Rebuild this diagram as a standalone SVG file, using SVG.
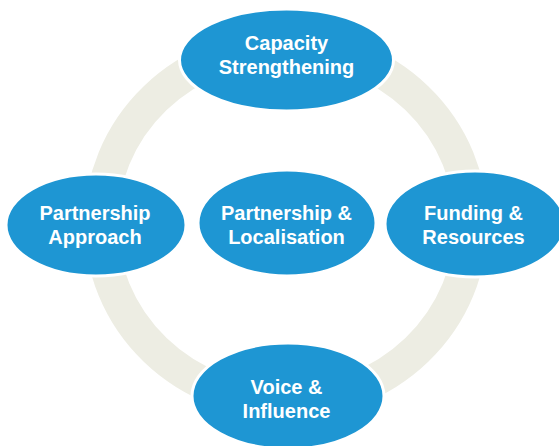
<svg xmlns="http://www.w3.org/2000/svg" width="559" height="446" viewBox="0 0 559 446">
  <style>
    .node { fill: #1e96d3; stroke: #ffffff; stroke-width: 3; }
    .label { fill: #ffffff; font-family: "Liberation Sans", Arial, sans-serif; font-weight: bold; font-size: 20px; text-anchor: middle; }
    .ring { fill: none; stroke: #edede3; stroke-width: 33; }
  </style>
  <rect width="559" height="446" fill="#ffffff"/>

  <!-- cycle ring linking the outer nodes -->
  <g id="connectors">
    <ellipse class="ring" cx="286" cy="224" rx="185" ry="178"/>
  </g>

  <g id="capacity-strengthening">
    <ellipse class="node" cx="286.5" cy="60" rx="107" ry="51"/>
    <text class="label" x="286.5" y="50">Capacity</text>
    <text class="label" x="286.5" y="74">Strengthening</text>
  </g>

  <g id="partnership-approach">
    <ellipse class="node" cx="96" cy="225" rx="90" ry="51"/>
    <text class="label" x="95" y="220">Partnership</text>
    <text class="label" x="95" y="244">Approach</text>
  </g>

  <g id="partnership-localisation">
    <ellipse class="node" cx="287" cy="223" rx="89" ry="53"/>
    <text class="label" x="286.5" y="220">Partnership &amp;</text>
    <text class="label" x="286.5" y="244">Localisation</text>
  </g>

  <g id="funding-resources">
    <ellipse class="node" cx="475" cy="224" rx="90" ry="53"/>
    <text class="label" x="473.5" y="220">Funding &amp;</text>
    <text class="label" x="473.5" y="244">Resources</text>
  </g>

  <g id="voice-influence">
    <ellipse class="node" cx="288" cy="396" rx="96" ry="53"/>
    <text class="label" x="286.5" y="394">Voice &amp;</text>
    <text class="label" x="286.5" y="418">Influence</text>
  </g>
</svg>
